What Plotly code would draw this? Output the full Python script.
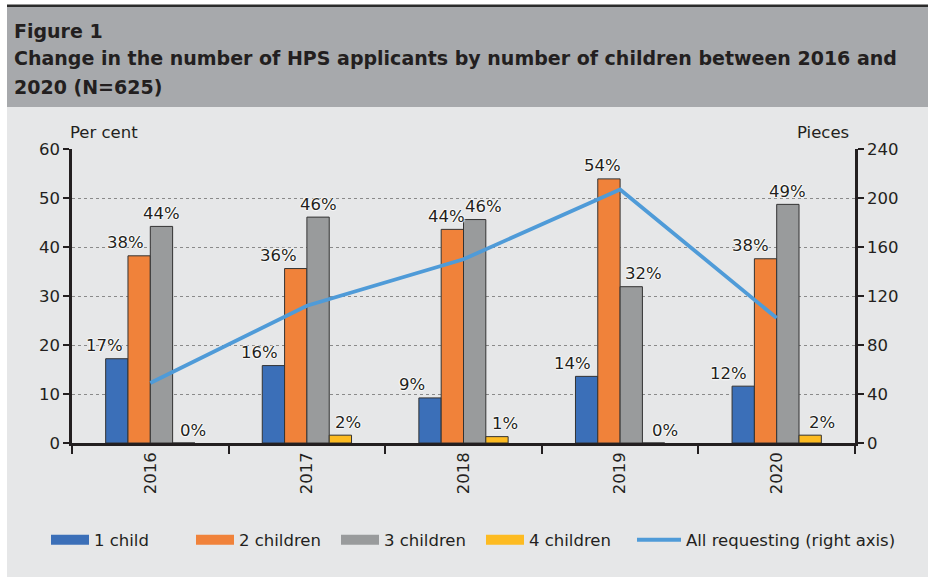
import plotly.graph_objects as go

# ---- data -------------------------------------------------------------
years = ["2016", "2017", "2018", "2019", "2020"]
series_names = ["1 child", "2 children", "3 children", "4 children"]
one_child = [17.2, 15.8, 9.2, 13.6, 11.6]
two_children = [38.2, 35.6, 43.6, 53.9, 37.6]
three_children = [44.2, 46.1, 45.6, 31.9, 48.7]
four_children = [0.0, 1.6, 1.3, 0.0, 1.6]
all_requesting = [49, 112, 150, 207, 102]
line_name = "All requesting (right axis)"

# ---- style ------------------------------------------------------------
bar_colors = ["#3b6fb8", "#f0823a", "#999b9c", "#fdbb21"]
line_color = "#4f9bd8"
ink = "#231f20"
body_font = "'DejaVu Sans', Verdana, sans-serif"
fs = 16.5

# horizontal nudges (px) of the value labels, per series and year
label_nudge = [
    [-12, -14, -18, -14, -15],
    [-14, -17, -6, -6, -15],
    [0, 0, 9, 12, 0],
    [9, 8, 8, 11, 12],
]

# ---- geometry helpers (page pixels -> paper fractions) ----------------
W, H = 928, 577
L, R, T, B = 72, 855, 149, 443
BARGAP = 0.43


def px_x(px):
    return (px - L) / (R - L)


def px_y(py):
    return (B - py) / (B - T)


halo = ("0 0 2px #fff, 0 0 2px #fff, 0 0 2px #fff, 0 0 2px #fff, "
        "0 0 1px #fff")

all_series = [one_child, two_children, three_children, four_children]
fig = go.Figure()

for name, vals, col in zip(series_names, all_series, bar_colors):
    fig.add_trace(go.Bar(
        x=years, y=vals, name=name, legendgroup=name, showlegend=False,
        marker=dict(color=col, line=dict(color="#333333", width=1)),
        yaxis="y",
    ))

# wide legend swatches for the bar series
for name, col in zip(series_names, bar_colors):
    fig.add_trace(go.Scatter(
        x=[years[0]], y=[None], name=name, legendgroup=name, mode="lines",
        line=dict(color=col, width=10), legend="legend", yaxis="y",
        hoverinfo="skip",
    ))

fig.add_trace(go.Scatter(
    x=years, y=all_requesting, name=line_name, mode="lines",
    line=dict(color=line_color, width=3.8),
    yaxis="y2", legend="legend2",
))

# ---- value labels ---------------------------------------------------------
bar_px = (R - L) / len(years) * (1 - BARGAP) / len(series_names)
annotations = []
for i, vals in enumerate(all_series):
    for j, v in enumerate(vals):
        annotations.append(dict(
            x=j, y=v, xref="x", yref="y", text=f"{round(v)}%",
            showarrow=False, xanchor="center", yanchor="middle",
            xshift=(i - (len(series_names) - 1) / 2) * bar_px + label_nudge[i][j],
            yshift=13,
            font=dict(family=body_font, size=fs, color=ink, shadow=halo),
        ))

# ---- background panels -------------------------------------------------
shapes = [
    dict(type="rect", xref="paper", yref="paper", layer="below",
         x0=px_x(7), x1=px_x(W + 2), y0=px_y(107), y1=px_y(H + 2),
         fillcolor="#e6e7e8", line=dict(width=0)),
    dict(type="rect", xref="paper", yref="paper", layer="below",
         x0=px_x(7), x1=px_x(W + 2), y0=px_y(7), y1=px_y(107),
         fillcolor="#a7a9ac", line=dict(width=0)),
    dict(type="rect", xref="paper", yref="paper", layer="below",
         x0=px_x(7), x1=px_x(W + 2), y0=px_y(4.5), y1=px_y(7),
         fillcolor="#2b2b2b", line=dict(width=0)),
]

title_lines = [
    "Figure 1",
    "Change in the number of HPS applicants by number of children between 2016 and",
    "2020 (N=625)",
]
title_centres = [31, 58, 87]
for txt, yc in zip(title_lines, title_centres):
    annotations.append(dict(
        text=f"<b>{txt}</b>", xref="paper", yref="paper",
        x=px_x(12), y=px_y(yc), xanchor="left", yanchor="middle",
        showarrow=False, font=dict(family=body_font, size=19, color=ink),
    ))

annotations += [
    dict(text="Per cent", xref="paper", yref="paper", x=px_x(68), y=px_y(132),
         xanchor="left", yanchor="middle", showarrow=False,
         font=dict(family=body_font, size=fs, color=ink)),
    dict(text="Pieces", xref="paper", yref="paper", x=px_x(851), y=px_y(132),
         xanchor="right", yanchor="middle", showarrow=False,
         font=dict(family=body_font, size=fs, color=ink)),
]

axis_common = dict(
    showline=True, linecolor=ink, linewidth=2.5,
    ticks="outside", tickcolor=ink, tickwidth=2, ticklen=6,
    tickfont=dict(family=body_font, size=fs, color=ink),
    zeroline=False,
)

legend_common = dict(
    orientation="h", yanchor="middle", y=px_y(540), xanchor="left",
    bgcolor="rgba(0,0,0,0)", font=dict(family=body_font, size=fs, color=ink),
)

fig.update_layout(
    width=W, height=H,
    margin=dict(l=L, r=W - R, t=T, b=H - B, autoexpand=False),
    paper_bgcolor="white", plot_bgcolor="rgba(0,0,0,0)",
    barmode="group", bargap=BARGAP, bargroupgap=0,
    font=dict(family=body_font, color=ink, size=fs),
    shapes=shapes, annotations=annotations,
    xaxis=dict(
        type="category", categoryorder="array", categoryarray=years,
        range=[-0.5, len(years) - 0.5], autorange=False,
        showline=True, linecolor=ink, linewidth=2.5,
        ticks="outside", tickson="boundaries", tickcolor=ink, tickwidth=2,
        ticklen=8, tickangle=-90,
        tickfont=dict(family=body_font, size=fs, color=ink),
        showgrid=False,
    ),
    yaxis=dict(range=[0, 60], dtick=10, showgrid=True, gridcolor="#8a8a8a",
               griddash="dot", gridwidth=1, **axis_common),
    yaxis2=dict(range=[0, 240], dtick=40, overlaying="y", side="right",
                showgrid=False, **axis_common),
    legend=dict(x=px_x(46), entrywidth=92, entrywidthmode="pixels",
                itemwidth=38, traceorder="normal", **legend_common),
    legend2=dict(x=px_x(632), itemwidth=44, **legend_common),
    showlegend=True,
)

fig.write_html("out.html")
